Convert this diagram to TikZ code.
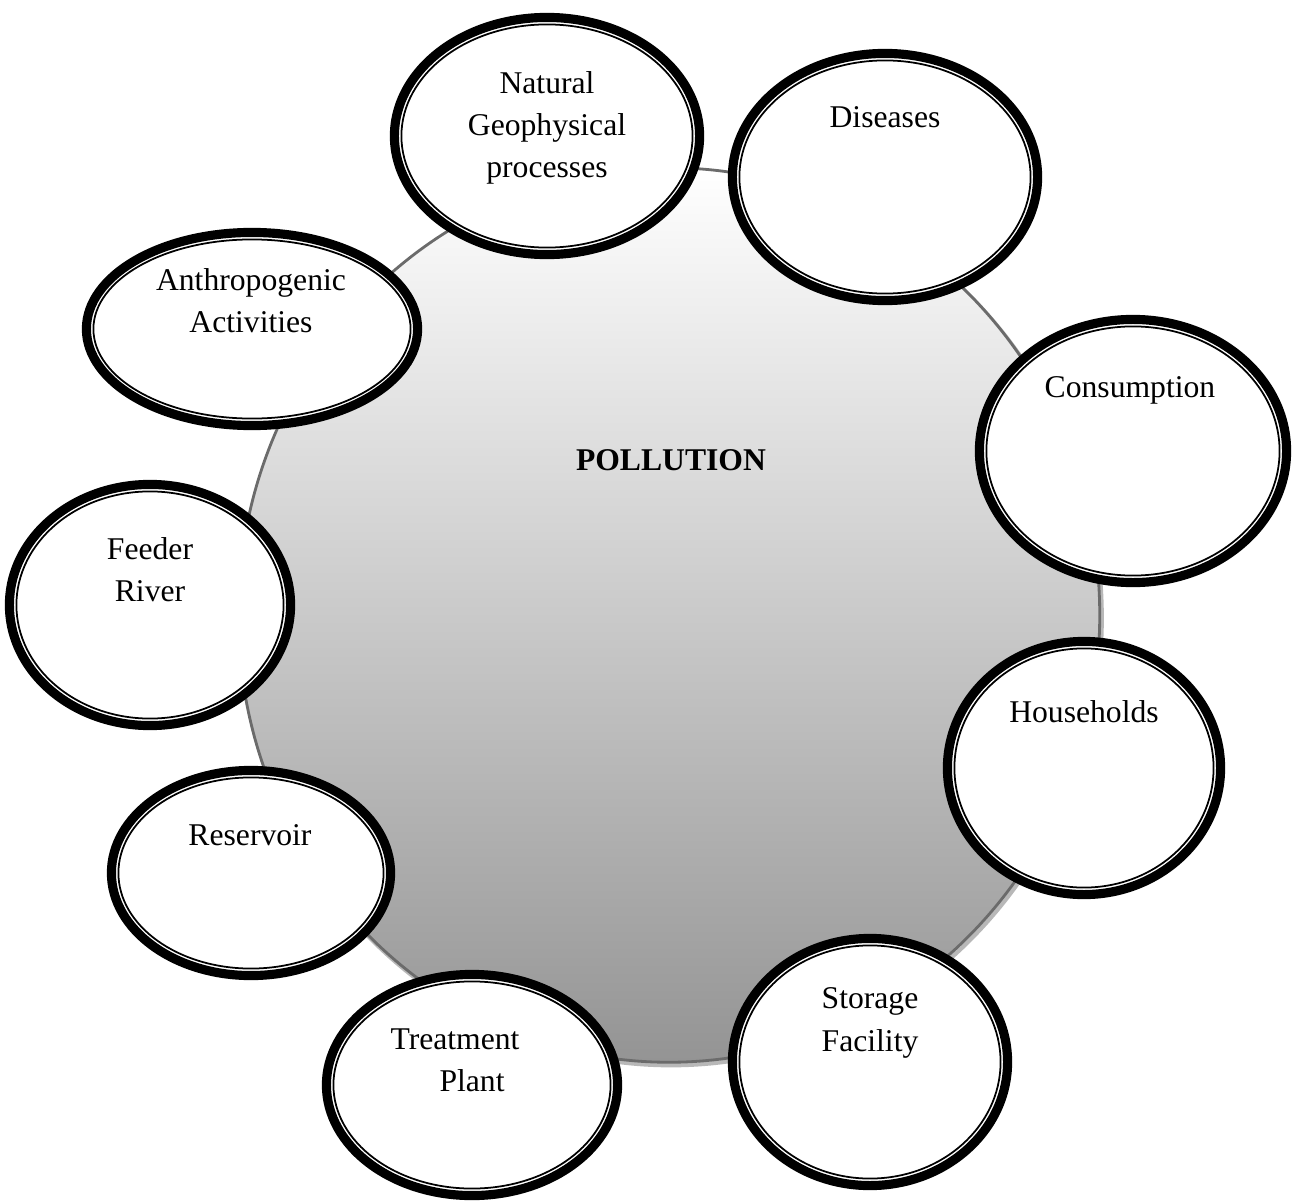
\documentclass[tikz,border=0pt]{standalone}
\usepackage{fontspec}
\setmainfont{Liberation Serif}
\usetikzlibrary{shapes.geometric}
\tikzset{%
  ringout/.style={ellipse, draw=black, line width=2.6pt, fill=white, inner sep=0pt},
  ringin/.style={ellipse, draw=black, line width=0.5pt, inner sep=0pt},
  ringtext/.style={align=center, inner sep=0pt, font=\fontsize{9}{12}\selectfont},
  core/.style={ellipse, inner sep=0pt, minimum width=8.61cm, minimum height=8.94cm}
}
% one bubble: name, centre, width, height
\newcommand{\bubble}[4]{%
  \node[ringout, minimum width=#3, minimum height=#4] (#1) at (#2) {};
  \node[ringin, minimum width=#3-0.14cm, minimum height=#4-0.14cm] (#1-in) at (#2) {};
}

\begin{document}
\begin{tikzpicture}[x=0.01cm, y=-0.01cm]

  \useasboundingbox (0,0) rectangle (1299,1203);

  % big shaded disc, with a faint shadow
  \node[core, draw=black!28, line width=1.2pt] (coreshadow) at (671,618) {};
  \node[core, top color=white, middle color=black!14, bottom color=black!42,
        draw=black!58, line width=0.8pt] (pollution) at (669,615) {};
  \node[ringtext, font=\fontsize{9}{12}\selectfont\bfseries] (pollution-txt) at (671,460) {POLLUTION};

  % the bubbles round the disc
  \bubble{nat}{547,136}{3.05cm}{2.37cm}
  \bubble{dis}{885,177}{3.05cm}{2.47cm}
  \bubble{con}{1133,451}{3.07cm}{2.63cm}
  \bubble{hou}{1084,768}{2.73cm}{2.53cm}
  \bubble{sto}{870,1062}{2.75cm}{2.47cm}
  \bubble{tre}{472,1085}{2.91cm}{2.21cm}
  \bubble{res}{251,873}{2.79cm}{2.05cm}
  \bubble{fee}{150,605}{2.81cm}{2.41cm}
  \bubble{ant}{252,329}{3.31cm}{1.93cm}

  % texts, set high in each bubble
  \node[ringtext] (nat-txt) at (547,128) {Natural\\Geophysical\\processes};
  \node[ringtext] (dis-txt) at (885,117) {Diseases};
  \node[ringtext] (con-txt) at (1130,390) {Consumption};
  \node[ringtext] (hou-txt) at (1084,712) {Households};
  \node[ringtext] (sto-txt) at (870,1023) {Storage\\Facility};
  \node[ringtext] (tre-txt) at (455,1060) {Treatment\\\hspace*{9.7pt}Plant};
  \node[ringtext] (res-txt) at (250,835) {Reservoir};
  \node[ringtext] (fee-txt) at (150,570) {Feeder\\River};
  \node[ringtext] (ant-txt) at (251,301) {Anthropogenic\\Activities};

\end{tikzpicture}
\end{document}
